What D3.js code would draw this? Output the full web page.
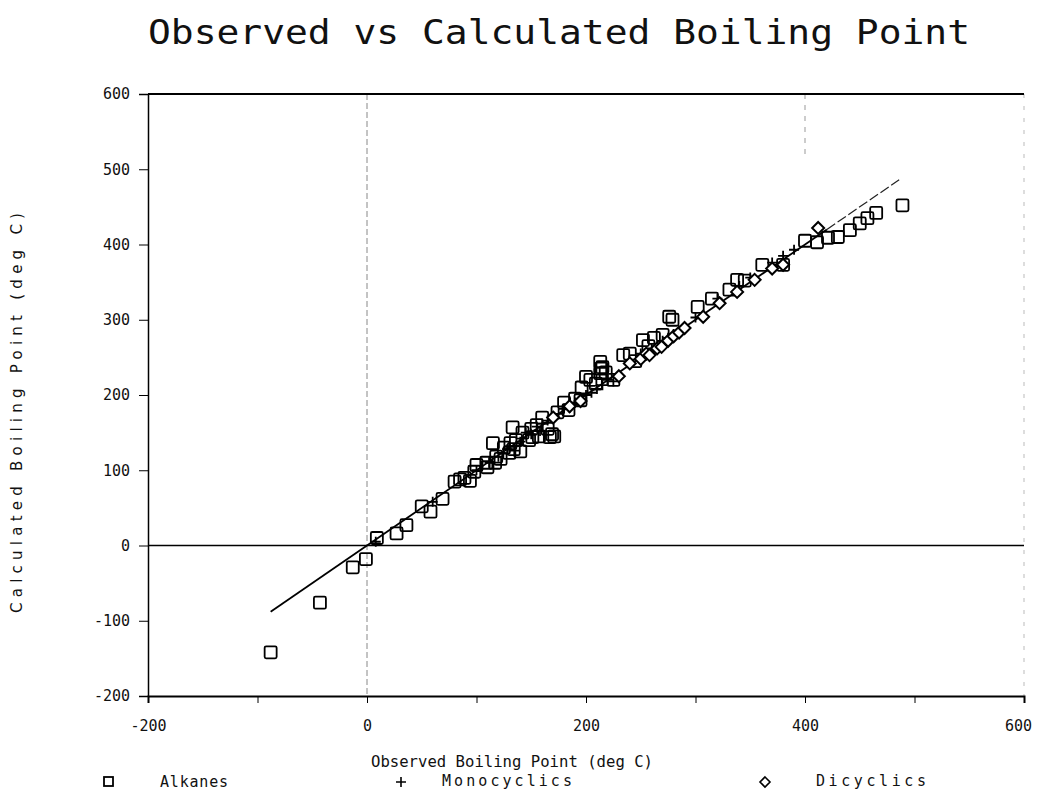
<!DOCTYPE html>
<html><head><meta charset="utf-8">
<script src="https://cdn.jsdelivr.net/npm/d3@7"></script>
<style>body{margin:0;background:#fff;} text{font-family:"DejaVu Sans Mono",monospace;fill:#111;}</style>
</head><body>
<svg id="c" width="1043" height="796"></svg>
<script>
const title = "Observed vs Calculated Boiling Point";
const xTitle = "Observed Boiling Point (deg C)";
const yTitle = "Calculated Boiling Point (deg C)";
const xTickLabels = [-200, 0, 200, 400, 600];
const xMinorTicks = [-200,-100,0,100,200,300,400,500,600];
const yTickLabels = [-200,-100,0,100,200,300,400,500,600];
const seriesNames = ["Alkanes","Monocyclics","Dicyclics"];

// Alkanes [observed, calculated]
const alkObs  = [-88,-43,-13,-1,9,27,36,50,58,69,80,85,89,94,98,100,109,110,115,117,118,122,125,130,131,133,134,136,140,142,148,150,151,155,157,160,165,167,169,171,174,180,184,190,195,196,200,204,209,213,213,214,215,218,225,234,240,245,252,257,262,270,276,279,302,315,331,338,345,361,380,400,411,421,430,441,450,457,465,489];
const alkCalc = [-142,-76,-29,-18,10,16,27,52,45,62,85,88,90,86,98,107,110,104,136,110,118,115,130,123,136,157,128,140,125,150,140,155,144,160,145,170,155,144,148,145,177,190,180,195,193,210,224,220,215,229,244,235,237,230,220,253,255,245,273,265,276,280,304,300,317,328,340,353,352,373,373,405,403,409,410,419,428,435,442,452];

// Monocyclics
const monObs  = [8,60,100,112,120,128,130,135,140,145,150,155,158,160,165,170,175,180,185,190,195,200,205,210,215,220,225,230,240,250,260,265,270,275,280,290,300,320,340,350,370,380,390];
const monCalc = [5,58,100,110,118,128,132,126,138,150,148,158,152,162,166,168,175,182,183,190,193,200,203,208,213,220,218,225,243,255,262,265,272,276,281,288,303,328,345,356,376,385,393];

// Dicyclics
const dicObs  = [170,185,195,230,240,250,255,258,265,269,275,280,285,290,307,322,338,354,370,380,412];
const dicCalc = [170,185,192,225,242,248,255,253,262,264,272,278,283,289,304,322,337,353,368,373,422];

// regression line endpoints (observed)
const fitSolid = [-88, 420];
const fitDashed = [420, 486];

const svg = d3.select("#c");
const x = d3.scaleLinear().domain([-200,600]).range([148,1024]);
const y = d3.scaleLinear().domain([-200,600]).range([696,94]);

// title
svg.append("text").attr("x",148).attr("y",44).attr("font-size",33).attr("fill","#222")
  .attr("textLength",822).attr("lengthAdjust","spacingAndGlyphs").text(title);

// grid lines
svg.append("line").attr("x1",x(0)).attr("x2",x(0)).attr("y1",y(600)).attr("y2",y(-200))
  .attr("stroke","#888").attr("stroke-width",1).attr("stroke-dasharray","6,3");
svg.append("line").attr("x1",x(400)).attr("x2",x(400)).attr("y1",y(600)).attr("y2",y(520))
  .attr("stroke","#999").attr("stroke-width",1).attr("stroke-dasharray","5,6");
svg.append("line").attr("x1",x(600)).attr("x2",x(600)).attr("y1",y(600)).attr("y2",y(-200))
  .attr("stroke","#bbb").attr("stroke-width",1).attr("stroke-dasharray","4,8");
// zero line
svg.append("line").attr("x1",x(-200)).attr("x2",x(600)).attr("y1",y(0)).attr("y2",y(0))
  .attr("stroke","#000").attr("stroke-width",1.5);
// top border
svg.append("line").attr("x1",x(-200)).attr("x2",x(600)).attr("y1",y(600)).attr("y2",y(600))
  .attr("stroke","#000").attr("stroke-width",2);

// axes
const yAxis = d3.axisLeft(y).tickValues(yTickLabels).tickSize(9).tickPadding(9).tickFormat(d3.format("d"));
const gy = svg.append("g").attr("transform",`translate(${x(-200)},0)`).call(yAxis);
gy.select(".domain").attr("stroke","#000").attr("stroke-width",1.5);
gy.selectAll("text").attr("font-size",15).style("font-family","DejaVu Sans Mono, monospace").text(d=>String(d));

const xAxisMinor = d3.axisBottom(x).tickValues(xMinorTicks).tickSize(7).tickFormat("");
const gx = svg.append("g").attr("transform",`translate(0,${y(-200)})`).call(xAxisMinor);
gx.select(".domain").attr("stroke","#000").attr("stroke-width",2);
const xAxisLab = d3.axisBottom(x).tickValues(xTickLabels).tickSize(0).tickPadding(24).tickFormat(d3.format("d"));
const gx2 = svg.append("g").attr("transform",`translate(0,${y(-200)})`).call(xAxisLab);
gx2.select(".domain").remove();
gx2.selectAll("text").attr("font-size",15).style("font-family","DejaVu Sans Mono, monospace").text(d=>String(d))
  .attr("dx", d => d===600 ? -6 : 0);

// axis titles
svg.append("text").attr("x",512).attr("y",767).attr("text-anchor","middle").attr("font-size",15)
  .attr("textLength",282).attr("lengthAdjust","spacingAndGlyphs").text(xTitle);
svg.append("text").attr("transform","translate(22,413) rotate(-90)").attr("text-anchor","middle").attr("font-size",15)
  .style("font-family","DejaVu Sans, sans-serif")
  .attr("textLength",400).attr("lengthAdjust","spacing").text(yTitle);

// regression line
svg.append("line").attr("x1",x(fitSolid[0])).attr("y1",y(fitSolid[0])).attr("x2",x(fitSolid[1])).attr("y2",y(fitSolid[1]))
  .attr("stroke","#000").attr("stroke-width",1.8);
svg.append("line").attr("x1",x(fitDashed[0])).attr("y1",y(fitDashed[0])).attr("x2",x(fitDashed[1])).attr("y2",y(fitDashed[1]))
  .attr("stroke","#222").attr("stroke-width",1.2).attr("stroke-dasharray","10,3");

// markers
const sqS = 12;
const alk = alkObs.map((v,i)=>[v,alkCalc[i]]);
svg.append("g").selectAll("rect").data(alk).join("rect")
  .attr("x",d=>x(d[0])-sqS/2).attr("y",d=>y(d[1])-sqS/2).attr("width",sqS).attr("height",sqS)
  .attr("rx",1.5).attr("fill","none").attr("stroke","#000").attr("stroke-width",1.8);

const mon = monObs.map((v,i)=>[v,monCalc[i]]);
svg.append("g").selectAll("path").data(mon).join("path")
  .attr("d",d=>{const cx=x(d[0]),cy=y(d[1]),s=5;return `M${cx-s},${cy}H${cx+s}M${cx},${cy-s}V${cy+s}`;})
  .attr("stroke","#000").attr("stroke-width",1.8).attr("fill","none");

const dic = dicObs.map((v,i)=>[v,dicCalc[i]]);
svg.append("g").selectAll("path").data(dic).join("path")
  .attr("d",d=>{const cx=x(d[0]),cy=y(d[1]),s=6;return `M${cx},${cy-s}L${cx+s},${cy}L${cx},${cy+s}L${cx-s},${cy}Z`;})
  .attr("stroke","#000").attr("stroke-width",2).attr("fill","#fff");

// legend
const lg = svg.append("g");
lg.append("rect").attr("x",104).attr("y",777).attr("width",9).attr("height",9).attr("fill","none").attr("stroke","#000").attr("stroke-width",1.8);
lg.append("text").attr("x",160).attr("y",787).attr("font-size",15).attr("textLength",68).attr("lengthAdjust","spacing").text(seriesNames[0]);
lg.append("path").attr("d","M396,782H406M401,777V787").attr("stroke","#000").attr("stroke-width",1.6);
lg.append("text").attr("x",442).attr("y",786).attr("font-size",15).attr("textLength",130).attr("lengthAdjust","spacing").text(seriesNames[1]);
lg.append("path").attr("d","M765,777L770,782L765,787L760,782Z").attr("stroke","#000").attr("stroke-width",1.6).attr("fill","none");
lg.append("text").attr("x",816).attr("y",786).attr("font-size",15).attr("textLength",110).attr("lengthAdjust","spacing").text(seriesNames[2]);
</script>
</body></html>
